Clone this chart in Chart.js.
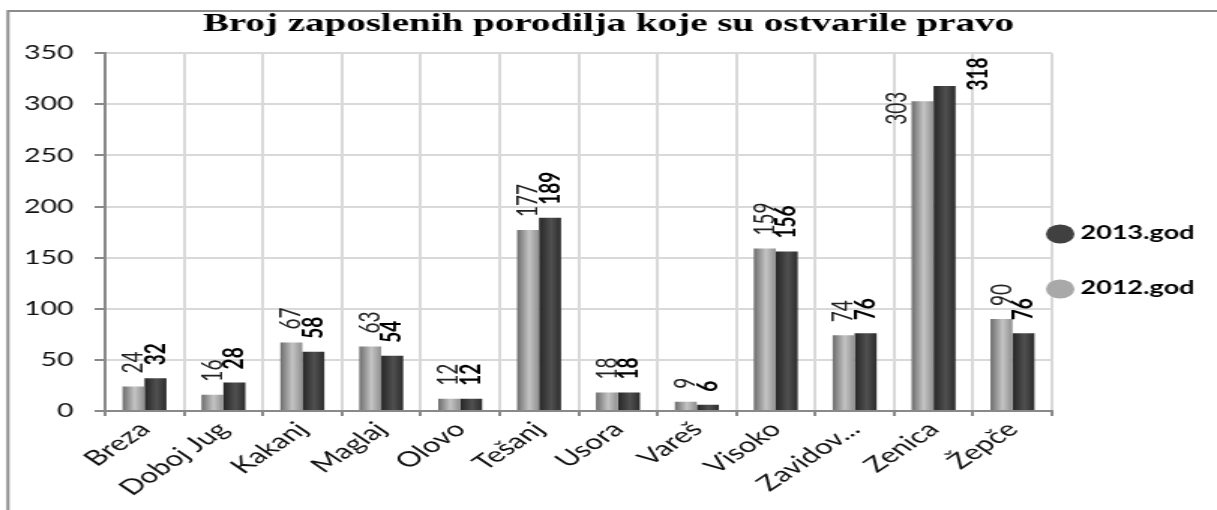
<!DOCTYPE html>
<html>
<head>
<meta charset="utf-8">
<script src="https://cdn.jsdelivr.net/npm/chart.js@4"></script>
<style>
  html, body { margin: 0; padding: 0; background: #fff; overflow: hidden; }
  /* the reference picture is stretched sideways, so draw narrow and widen */
  #wrap { position: relative; width: 811px; height: 510px; transform: scaleX(1.5006); transform-origin: 0 0; }
</style>
</head>
<body>
<div id="wrap"><canvas id="chartCanvas"></canvas></div>
<script>
const categories = ["Breza", "Doboj Jug", "Kakanj", "Maglaj", "Olovo", "Tešanj", "Usora", "Vareš", "Visoko", "Zavidov...", "Zenica", "Žepče"];
const values2012 = [24, 16, 67, 63, 12, 177, 18, 9, 159, 74, 303, 90];
const values2013 = [32, 28, 58, 54, 12, 189, 18, 6, 156, 76, 318, 76];
const seriesNames = ["2012.god", "2013.god"];
const yMin = 0, yMax = 350, yStep = 50;

const CAT_PCT = 0.557;
const lightStops = ["#6c6c6c", "#c4c4c4", "#8f8f8f"];
const darkStops = ["#262626", "#505050", "#2c2c2c"];
const legendColors = ["#a8a8a8", "#404040"];
const sansFont = "Lato";

// cylinder-like shading for each bar
function barFill(context, stops) {
    const chart = context.chart;
    const xs = chart.scales.x;
    if (!chart.chartArea || !xs || context.type !== "data") return stops[1];
    const c = xs.getPixelForValue(context.dataIndex);
    const w = xs.width / categories.length * CAT_PCT / 2;
    const left = context.datasetIndex === 0 ? c - w : c;
    const g = chart.ctx.createLinearGradient(left, 0, left + w, 0);
    g.addColorStop(0, stops[0]);
    g.addColorStop(0.55, stops[1]);
    g.addColorStop(1, stops[2]);
    return g;
}

// outer frame (only top and left edge are visible in the picture)
const framePlugin = {
    id: "frame",
    beforeDraw(chart) {
        const ctx = chart.ctx;
        ctx.save();
        ctx.strokeStyle = "#8c8c8c";
        ctx.lineWidth = 2;
        ctx.beginPath();
        ctx.moveTo(5.3, chart.height);
        ctx.lineTo(5.3, 11);
        ctx.lineTo(chart.width, 11);
        ctx.stroke();
        ctx.restore();
    }
};

// vertical value labels above the bars
const valueLabels = {
    id: "valueLabels",
    afterDatasetsDraw(chart) {
        const ctx = chart.ctx;
        chart.data.datasets.forEach((ds, di) => {
            const meta = chart.getDatasetMeta(di);
            meta.data.forEach((bar, i) => {
                const v = ds.data[i];
                let x = bar.x, y = bar.y - 13, align = "left";
                if (v >= 300) {
                    // no room above: Excel puts these next to the bar
                    align = "center";
                    if (di === 0) { x = bar.x - bar.width / 2 - 10; y = bar.y + 7; }
                    else { x = bar.x + bar.width / 2 + 15; y = bar.y - 12; }
                }
                ctx.save();
                ctx.font = (di === 1 ? "bold " : "") + "19px " + sansFont;
                ctx.fillStyle = di === 1 ? "#000" : "#222";
                ctx.translate(x, y);
                ctx.rotate(-Math.PI / 2);
                ctx.textAlign = align;
                ctx.textBaseline = "middle";
                ctx.fillText(String(v), 0, 0);
                ctx.restore();
            });
        });
    }
};

// legend on the right, 2013 above 2012
const sideLegend = {
    id: "sideLegend",
    afterDraw(chart) {
        const ctx = chart.ctx;
        const rows = [
            { name: chart.data.datasets[1].label, color: legendColors[1], y: 233 },
            { name: chart.data.datasets[0].label, color: legendColors[0], y: 288 }
        ];
        rows.forEach(r => {
            ctx.save();
            ctx.fillStyle = r.color;
            ctx.beginPath();
            ctx.arc(chart.chartArea.right + 5.5, r.y + 1, 9.5, 0, Math.PI * 2);
            ctx.fill();
            ctx.fillStyle = "#000";
            ctx.font = "bold 18px " + sansFont;
            ctx.textAlign = "left";
            ctx.textBaseline = "middle";
            ctx.fillText(r.name, chart.chartArea.right + 19, r.y);
            ctx.restore();
        });
    }
};

const chartCanvas = document.getElementById("chartCanvas");

const barChart = new Chart(chartCanvas, {
    type: "bar",
    data: {
        labels: categories,
        datasets: [
            {
                label: seriesNames[0],
                data: values2012,
                backgroundColor: c => barFill(c, lightStops),
                categoryPercentage: CAT_PCT,
                barPercentage: 1.0
            },
            {
                label: seriesNames[1],
                data: values2013,
                backgroundColor: c => barFill(c, darkStops),
                categoryPercentage: CAT_PCT,
                barPercentage: 1.0
            }
        ]
    },
    options: {
        responsive: true,
        maintainAspectRatio: false,
        animation: false,
        layout: { padding: 0 },
        plugins: {
            legend: { display: false },
            tooltip: { enabled: false },
            title: {
                display: true,
                text: "Broj zaposlenih porodilja koje su ostvarile pravo",
                color: "#000",
                font: { family: "Liberation Serif", size: 26, weight: "bold" },
                padding: { top: 9, bottom: 13 }
            }
        },
        scales: {
            x: {
                grid: { color: "#d9d9d9", lineWidth: 2, offset: true, tickLength: 5, tickColor: "#898989" },
                border: { color: "#898989", width: 2 },
                ticks: { color: "#111", font: { family: sansFont, size: 21 }, minRotation: 45, maxRotation: 45, autoSkip: false, padding: 1 },
                afterFit: s => { s.height = 99; }
            },
            y: {
                min: yMin,
                max: yMax,
                grid: { color: "#d9d9d9", lineWidth: 2, tickLength: 7, tickColor: "#898989" },
                border: { color: "#898989", width: 2 },
                ticks: { stepSize: yStep, color: "#111", font: { family: sansFont, size: 19 }, padding: 14 },
                afterFit: s => { s.width = 70; }
            },
            // empty room on the right for the legend
            legendRoom: {
                type: "linear",
                position: "right",
                grid: { display: false },
                border: { display: false },
                ticks: { display: false },
                afterFit: s => { s.width = 110; }
            }
        }
    },
    plugins: [framePlugin, valueLabels, sideLegend]
});
</script>
</body>
</html>
